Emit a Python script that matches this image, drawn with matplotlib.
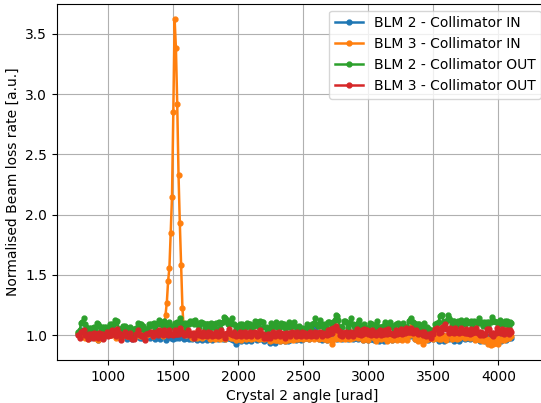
import numpy as np
import matplotlib
matplotlib.use("Agg")
import matplotlib.pyplot as plt

# crystal angle grid [urad]
angle = np.arange(770, 4101, 10)

blm2_in = [
    1.01,1.00,1.04,1.01,1.02,0.99,1.00,0.99,1.02,0.98,
    0.99,0.99,1.02,0.99,0.99,0.96,1.00,1.00,1.01,0.98,
    1.01,1.01,1.05,1.05,1.08,1.07,1.07,1.02,1.02,0.99,
    1.03,0.99,0.99,0.98,1.02,0.99,1.00,0.97,1.01,1.00,
    1.00,0.97,0.98,0.98,1.02,1.01,1.01,0.98,0.99,0.98,
    0.99,0.98,1.01,1.00,1.01,0.98,1.02,0.99,1.00,0.97,
    1.00,0.99,1.00,0.97,1.00,0.99,0.99,0.96,1.00,0.99,
    0.99,0.98,0.98,0.97,1.01,0.98,0.99,0.98,1.02,0.99,
    1.00,0.97,0.98,0.98,1.01,0.97,0.98,0.97,1.01,0.98,
    0.99,0.96,1.00,0.99,0.99,0.96,0.99,0.99,1.00,0.96,
    0.99,0.99,1.00,0.96,0.99,0.99,1.00,0.97,0.98,0.98,
    1.01,0.97,0.98,0.97,1.01,0.98,0.98,0.97,1.00,0.96,
    0.96,0.93,0.97,0.97,0.98,0.95,0.99,0.98,0.98,0.95,
    0.99,0.98,0.98,0.95,0.99,0.99,1.00,0.96,0.97,0.97,
    1.00,0.97,0.98,0.95,0.98,0.97,0.97,0.94,0.97,0.97,
    0.98,0.94,0.97,0.97,0.98,0.95,0.96,0.96,0.99,0.95,
    0.96,0.95,0.99,0.96,0.97,0.97,1.00,0.96,0.97,0.97,
    1.00,0.96,0.97,0.97,1.01,0.98,0.98,0.97,1.01,1.01,
    1.05,1.06,1.06,1.01,1.01,0.97,1.00,0.96,0.99,0.99,
    1.00,0.96,0.99,0.99,1.00,0.96,0.99,0.99,1.00,0.97,
    0.98,0.98,1.01,0.97,0.98,0.98,1.01,0.97,0.98,0.98,
    1.01,0.97,0.98,0.98,1.01,0.97,0.98,0.98,0.99,0.96,
    0.97,0.97,1.00,0.96,0.97,0.97,1.00,0.96,0.97,0.97,
    0.98,0.95,0.99,0.98,0.98,0.95,0.99,0.96,0.97,0.97,
    1.00,0.96,0.97,0.97,1.01,0.98,0.98,0.97,1.01,0.98,
    0.99,0.99,1.03,1.00,1.00,0.99,1.03,1.00,1.00,0.97,
    1.01,0.98,0.98,0.97,1.01,0.98,0.98,0.97,1.00,0.96,
    0.99,0.98,0.98,0.97,1.01,0.98,0.98,0.95,0.99,0.98,
    0.98,0.95,0.99,0.98,0.98,0.97,1.01,0.98,0.98,0.95,
    0.99,0.98,0.98,0.95,0.99,0.98,1.01,0.97,0.98,0.98,
    1.01,0.97,0.98,0.98,1.01,0.97,0.98,0.98,0.99,0.95,
    0.98,0.98,0.99,0.95,0.98,0.98,0.99,0.95,0.96,0.96,
    0.99,0.95,0.96,0.96,0.99,0.95,0.98,0.98,0.99,0.96,
    0.99,0.98,0.99,0.98,
]

blm3_in = [
    1.02,0.99,1.03,1.02,1.02,0.98,1.01,0.97,1.00,0.99,
    1.00,1.00,1.01,0.98,0.99,0.96,0.99,0.99,1.02,0.99,
    1.00,1.00,1.04,1.01,1.01,1.00,1.04,1.01,1.01,0.98,
    1.02,1.01,1.01,0.97,1.00,1.00,1.03,0.99,1.00,0.99,
    1.03,0.99,0.99,0.98,1.02,1.02,1.03,0.99,1.00,1.00,
    1.03,1.03,1.04,1.00,1.03,1.02,1.02,0.99,1.03,1.03,
    1.04,1.01,1.02,1.02,1.03,0.99,1.02,1.17,1.27,1.45,
    1.56,1.85,2.15,2.85,3.62,3.38,2.92,2.33,1.93,1.58,
    1.23,1.06,1.03,1.00,1.01,1.01,1.02,0.98,1.01,1.01,
    1.02,0.98,0.99,0.99,1.02,0.98,0.99,0.99,1.03,0.99,
    1.00,0.97,1.01,1.00,1.00,0.97,1.01,1.00,1.00,0.97,
    1.01,1.00,1.00,0.97,1.01,1.01,1.02,0.98,0.99,0.98,
    0.99,0.96,1.00,0.99,0.99,0.96,1.00,1.00,1.00,0.97,
    0.98,0.98,1.01,0.97,0.98,0.98,1.02,0.98,0.98,0.97,
    1.01,0.98,0.98,0.97,1.01,0.98,0.98,0.95,0.99,0.96,
    0.97,0.96,0.96,0.96,0.99,0.95,0.98,0.98,0.98,0.95,
    0.99,0.96,0.97,0.97,1.00,0.96,0.97,0.97,1.00,0.97,
    0.98,0.98,1.01,0.97,0.98,0.98,1.01,0.97,1.00,1.00,
    1.01,0.97,1.00,1.00,1.01,0.97,0.98,0.98,1.01,0.97,
    1.00,0.96,0.97,0.97,0.96,0.93,0.97,0.97,1.01,0.98,
    0.98,0.97,1.01,0.98,0.98,0.97,1.01,0.98,0.98,0.97,
    1.01,0.98,0.99,0.99,1.02,0.98,0.99,0.99,1.00,0.96,
    0.99,0.99,1.00,0.96,0.99,0.99,1.02,0.98,0.98,0.95,
    0.99,0.98,0.98,0.97,1.01,0.98,0.98,0.95,0.99,0.99,
    1.00,0.96,0.99,0.99,0.99,0.96,1.00,0.99,0.99,0.96,
    1.00,0.99,0.99,0.96,1.00,1.00,1.12,1.01,1.00,0.97,
    0.98,0.95,0.96,0.96,0.97,0.93,0.96,0.96,1.00,0.97,
    0.98,0.98,1.01,0.97,0.98,0.98,1.01,0.97,0.98,0.97,
    1.00,0.99,0.99,0.96,1.00,1.00,1.01,0.97,0.98,0.98,
    1.01,0.97,0.98,0.98,1.02,0.99,0.99,0.98,1.02,0.99,
    0.99,0.98,1.02,0.99,0.99,0.96,1.00,0.97,0.97,0.96,
    0.99,0.95,0.96,0.96,0.97,0.93,0.96,0.92,0.96,0.93,
    0.94,0.94,0.98,0.93,0.97,0.97,0.96,0.96,1.00,0.97,
    1.01,0.98,1.02,0.99,
]

blm2_out = [
    1.03,1.04,1.10,1.11,1.14,1.09,1.07,1.03,1.06,1.03,
    1.06,1.06,1.07,1.04,1.10,1.09,1.08,1.04,1.07,1.04,
    1.07,1.07,1.06,1.06,1.09,1.05,1.09,1.09,1.13,1.11,
    1.12,1.05,1.05,1.05,1.08,1.04,1.08,1.05,1.06,1.03,
    1.07,1.04,1.05,1.02,1.06,1.06,1.10,1.09,1.09,1.05,
    1.08,1.04,1.05,1.05,1.09,1.08,1.09,1.09,1.10,1.06,
    1.09,1.10,1.13,1.09,1.09,1.08,1.12,1.09,1.09,1.08,
    1.11,1.07,1.08,1.07,1.10,1.07,1.11,1.11,1.14,1.10,
    1.10,1.09,1.10,1.06,1.10,1.09,1.12,1.11,1.12,1.09,
    1.13,1.09,1.10,1.07,1.11,1.10,1.10,1.05,1.09,1.09,
    1.09,1.06,1.10,1.09,1.09,1.06,1.10,1.10,1.11,1.06,
    1.10,1.11,1.15,1.14,1.13,1.09,1.09,1.10,1.14,1.09,
    1.09,1.05,1.08,1.08,1.09,1.05,1.09,1.08,1.08,1.07,
    1.10,1.09,1.09,1.05,1.08,1.08,1.12,1.11,1.11,1.07,
    1.12,1.11,1.11,1.07,1.07,1.03,1.06,1.06,1.10,1.07,
    1.08,1.08,1.11,1.07,1.07,1.07,1.10,1.09,1.09,1.06,
    1.07,1.07,1.11,1.07,1.08,1.08,1.11,1.07,1.07,1.04,
    1.08,1.05,1.06,1.03,1.06,1.05,1.09,1.06,1.06,1.05,
    1.09,1.10,1.14,1.09,1.08,1.08,1.13,1.09,1.08,1.05,
    1.09,1.06,1.11,1.11,1.10,1.06,1.11,1.13,1.17,1.16,
    1.13,1.07,1.07,1.07,1.12,1.12,1.11,1.06,1.10,1.10,
    1.14,1.09,1.08,1.05,1.09,1.10,1.13,1.08,1.08,1.05,
    1.09,1.05,1.06,1.06,1.10,1.09,1.09,1.05,1.08,1.08,
    1.12,1.07,1.07,1.04,1.08,1.08,1.11,1.07,1.07,1.07,
    1.11,1.08,1.08,1.05,1.09,1.09,1.10,1.06,1.07,1.07,
    1.10,1.06,1.07,1.07,1.12,1.13,1.14,1.11,1.10,1.06,
    1.09,1.09,1.09,1.05,1.08,1.07,1.10,1.06,1.07,1.04,
    1.05,1.02,1.03,1.04,1.09,1.09,1.10,1.11,1.16,1.17,
    1.17,1.11,1.11,1.12,1.17,1.14,1.13,1.09,1.12,1.12,
    1.11,1.08,1.12,1.09,1.13,1.10,1.10,1.09,1.13,1.10,
    1.11,1.11,1.12,1.08,1.12,1.11,1.11,1.10,1.14,1.10,
    1.11,1.08,1.11,1.10,1.11,1.08,1.11,1.11,1.15,1.12,
    1.12,1.11,1.11,1.10,1.13,1.09,1.10,1.09,1.12,1.09,
    1.12,1.08,1.11,1.10,
]

blm3_out = [
    1.00,0.98,1.03,1.03,1.04,1.00,1.00,0.97,1.01,1.00,
    1.01,0.98,1.02,1.01,1.01,0.98,1.02,1.01,1.01,0.97,
    1.00,1.00,1.03,0.99,1.00,1.00,1.04,1.03,1.03,0.99,
    1.05,1.02,1.00,0.96,1.00,1.00,1.03,0.99,0.99,0.99,
    1.02,0.97,0.98,0.97,1.01,1.01,1.04,1.00,1.00,0.99,
    0.99,0.96,1.01,1.01,1.02,1.02,1.03,0.99,1.02,1.02,
    1.03,1.00,1.04,1.03,1.03,1.00,1.04,1.01,1.01,1.00,
    1.04,1.01,1.01,1.00,1.04,1.01,1.01,1.01,1.06,1.03,
    1.03,1.00,1.01,1.01,1.04,1.00,1.01,1.01,1.02,0.98,
    1.01,1.01,1.04,1.00,1.00,0.99,1.03,1.00,1.00,0.99,
    1.03,1.02,1.02,0.99,1.00,1.00,1.03,0.99,1.00,1.00,
    1.04,1.01,1.01,0.98,1.02,1.02,1.05,1.01,1.01,1.00,
    1.03,0.99,1.00,1.00,1.03,0.99,1.02,1.02,1.03,0.99,
    1.00,1.00,1.03,0.99,1.02,1.02,1.03,0.99,1.00,1.00,
    1.04,1.01,1.01,0.98,0.99,0.98,1.01,0.98,1.01,1.00,
    1.03,0.99,1.02,1.02,1.03,0.99,1.02,1.01,1.01,0.98,
    1.02,1.01,1.02,0.99,1.03,1.02,1.02,0.99,1.03,1.00,
    1.00,0.99,1.03,1.02,1.02,0.99,1.00,1.00,1.03,0.99,
    1.00,1.00,1.03,0.99,1.02,1.02,1.03,0.99,1.02,1.01,
    1.01,1.00,1.04,1.01,1.05,1.02,1.06,1.05,1.08,1.04,
    1.04,1.00,1.03,0.99,1.02,1.02,1.03,0.99,1.02,1.02,
    1.03,0.99,1.02,1.02,1.05,1.01,1.01,1.00,1.04,1.01,
    1.05,1.04,1.04,1.01,1.01,1.00,1.04,1.01,1.01,1.00,
    1.03,1.03,1.04,1.00,1.01,1.01,1.04,1.01,1.05,1.02,
    1.02,1.01,1.01,1.00,1.04,1.01,1.02,1.02,1.05,1.01,
    1.02,1.02,1.06,1.03,1.03,1.03,1.06,1.02,1.03,1.03,
    1.04,1.01,1.02,1.02,1.03,1.00,1.03,0.99,1.00,1.00,
    1.01,0.98,1.02,1.01,1.05,1.05,1.06,1.02,1.03,1.03,
    1.07,1.06,1.09,1.05,1.05,1.02,1.06,1.03,1.03,1.02,
    1.06,1.03,1.03,1.02,1.06,1.03,1.03,1.02,1.05,1.02,
    1.02,1.01,1.05,1.02,1.03,1.03,1.06,1.02,1.03,1.00,
    1.03,1.00,1.01,1.01,1.05,1.04,1.05,1.01,1.02,0.99,
    1.02,1.02,1.06,1.03,1.03,1.02,1.05,1.01,1.04,1.03,
    1.04,1.01,1.04,1.03,
]

labels = ["BLM 2 - Collimator IN", "BLM 3 - Collimator IN",
          "BLM 2 - Collimator OUT", "BLM 3 - Collimator OUT"]

fig = plt.figure(figsize=(5.41, 4.03), dpi=100)
ax = fig.add_axes([56.7 / 541, 1 - 360 / 403, (548 - 56.7) / 541, (360 - 3.7) / 403])

for series, lab in zip([blm2_in, blm3_in, blm2_out, blm3_out], labels):
    ax.plot(angle, series, '.-', label=lab, markersize=7, linewidth=1.8)

ax.set_xlim(603, 4382)
ax.set_ylim(0.795, 3.749)
ax.set_xticks([1000, 1500, 2000, 2500, 3000, 3500, 4000])
ax.set_xlabel("Crystal 2 angle [urad]")
ax.set_ylabel("Normalised Beam loss rate [a.u.]")
ax.grid(True)
ax.legend(loc="upper right")

fig.savefig("out.png", dpi=100)
